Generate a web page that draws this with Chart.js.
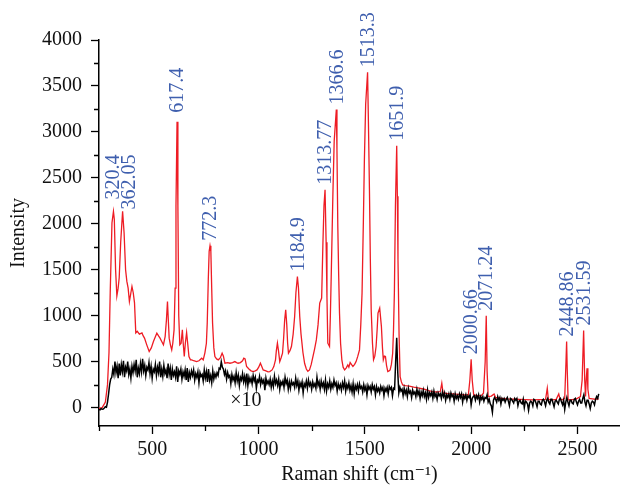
<!DOCTYPE html>
<html lang="en">
<head>
<meta charset="UTF-8">
<title>Raman spectrum</title>
<script src="https://cdn.jsdelivr.net/npm/chart.js"></script>
<style>
  html, body { margin: 0; padding: 0; background: #fff; }
  #wrap { width: 620px; height: 489px; }
</style>
</head>
<body>
<div id="wrap"><canvas id="raman"></canvas></div>
<script>
// red trace (sample)
const redShift = [
  250, 265, 280, 290, 297, 303, 311, 318, 322, 328, 334, 340, 345, 352, 361, 368, 375, 381, 387, 393,
  400, 405, 411, 417, 423, 430, 440, 452, 458, 464, 475, 486, 496, 506, 515, 522, 530, 537, 545, 553,
  561, 567, 572, 576, 580, 586, 592, 597, 603, 608, 612, 617, 621, 625, 630, 636, 642, 646, 651, 656,
  662, 667, 673, 680, 686, 695, 709, 720, 733, 740, 748, 755, 759, 764, 768, 772, 776, 780, 784, 790,
  795, 803, 811, 820, 829, 835, 842, 855, 866, 878, 889, 897, 904, 915, 925, 931, 937, 944, 955, 965,
  975, 985, 993, 1001, 1009, 1015, 1022, 1035, 1045, 1053, 1064, 1072, 1080, 1084, 1089, 1094, 1100, 1106, 1113, 1118,
  1123, 1128, 1133, 1137, 1141, 1148, 1155, 1163, 1170, 1176, 1183, 1188, 1194, 1200, 1209, 1217, 1225, 1232, 1240, 1248,
  1256, 1264, 1272, 1280, 1288, 1297, 1303, 1308, 1313, 1318, 1322, 1326, 1334, 1338, 1342, 1350, 1356, 1366, 1369, 1373,
  1377, 1381, 1386, 1392, 1398, 1405, 1412, 1420, 1425, 1431, 1437, 1444, 1452, 1459, 1467, 1475, 1481, 1487, 1493, 1498,
  1504, 1513, 1517, 1522, 1526, 1530, 1536, 1541, 1547, 1553, 1558, 1562, 1570, 1578, 1583, 1587, 1592, 1597, 1602, 1608,
  1614, 1619, 1625, 1631, 1635, 1639, 1644, 1650, 1653, 1656, 1661, 1666, 1672, 1678, 1690, 1709, 1730, 1756, 1780, 1800,
  1819, 1840, 1855, 1862, 1868, 1890, 1912, 1940, 1960, 1987, 1994, 2000, 2005, 2012, 2030, 2046, 2058, 2066, 2071, 2075,
  2080, 2095, 2108, 2115, 2131, 2170, 2209, 2250, 2287, 2320, 2350, 2358, 2363, 2381, 2400, 2412, 2418, 2428, 2440, 2446,
  2449, 2452, 2456, 2475, 2491, 2514, 2522, 2529, 2534, 2538, 2541, 2545, 2549, 2555, 2570, 2584, 2600
];
const redIntensity = [
  -10, 0, 60, 250, 600, 1280, 2010, 2135, 2050, 1500, 1216, 1300, 1413, 1800, 2135, 1900, 1500, 1373, 1300, 1155,
  1250, 1318, 1250, 1140, 813, 830, 800, 813, 780, 756, 680, 610, 650, 719, 770, 810, 780, 756, 720, 683,
  773, 950, 1155, 950, 756, 680, 628, 700, 846, 1300, 2200, 3110, 2200, 1000, 683, 700, 846, 700, 556, 700,
  817, 700, 556, 520, 520, 510, 501, 510, 538, 520, 596, 700, 922, 1400, 1700, 1760, 1700, 1300, 922, 650,
  556, 530, 520, 540, 592, 560, 483, 490, 483, 490, 501, 490, 483, 490, 510, 538, 530, 447, 420, 400,
  392, 400, 410, 440, 483, 450, 410, 400, 390, 392, 410, 447, 520, 620, 701, 620, 501, 540, 592, 750,
  950, 1065, 900, 700, 592, 620, 665, 800, 991, 1250, 1427, 1300, 991, 800, 600, 480, 420, 395, 410, 470,
  556, 640, 737, 900, 1137, 1192, 1791, 2200, 2371, 1800, 1200, 701, 665, 1000, 1427, 2335, 2900, 3243, 2800, 1972,
  1450, 1028, 700, 520, 440, 410, 430, 465, 440, 490, 470, 447, 470, 501, 560, 628, 900, 1246, 2000, 2698,
  3300, 3650, 3100, 2335, 1600, 1064, 700, 520, 560, 665, 850, 1028, 1083, 882, 650, 520, 560, 556, 460, 392,
  400, 410, 470, 592, 850, 1246, 2200, 2850, 2300, 1609, 800, 338, 280, 247, 240, 235, 222, 211, 200, 185,
  175, 170, 175, 265, 160, 152, 149, 145, 140, 138, 300, 527, 300, 138, 130, 127, 156, 500, 999, 400,
  120, 125, 149, 110, 102, 95, 91, 88, 84, 88, 90, 211, 90, 84, 90, 149, 90, 84, 100, 500,
  719, 400, 84, 88, 91, 120, 300, 839, 300, 120, 300, 429, 200, 100, 95, 91, 95
];

// black trace (x10)
const blackShift = [
  250, 255, 260, 265, 270, 275, 280, 285, 290, 295, 300, 305, 310, 315, 320, 325, 330, 335, 340, 345,
  350, 355, 360, 365, 370, 375, 380, 385, 390, 395, 400, 405, 410, 415, 420, 425, 430, 435, 440, 445,
  450, 455, 460, 465, 470, 475, 480, 485, 490, 495, 500, 505, 510, 515, 520, 525, 530, 535, 540, 545,
  550, 555, 560, 565, 570, 575, 580, 585, 590, 595, 600, 605, 610, 615, 620, 625, 630, 635, 640, 645,
  650, 655, 660, 665, 670, 675, 680, 685, 690, 695, 700, 705, 710, 715, 720, 725, 730, 735, 740, 745,
  750, 755, 760, 765, 770, 775, 780, 785, 790, 795, 800, 805, 810, 815, 820, 825, 830, 835, 840, 845,
  850, 855, 860, 865, 870, 875, 880, 885, 890, 895, 900, 905, 910, 915, 920, 925, 930, 935, 940, 945,
  950, 955, 960, 965, 970, 975, 980, 985, 990, 995, 1000, 1005, 1010, 1015, 1020, 1025, 1030, 1035, 1040, 1045,
  1050, 1055, 1060, 1065, 1070, 1075, 1080, 1085, 1090, 1095, 1100, 1105, 1110, 1115, 1120, 1125, 1130, 1135, 1140, 1145,
  1150, 1155, 1160, 1165, 1170, 1175, 1180, 1185, 1190, 1195, 1200, 1205, 1210, 1215, 1220, 1225, 1230, 1235, 1240, 1245,
  1250, 1255, 1260, 1265, 1270, 1275, 1280, 1285, 1290, 1295, 1300, 1305, 1310, 1315, 1320, 1325, 1330, 1335, 1340, 1345,
  1350, 1355, 1360, 1365, 1370, 1375, 1380, 1385, 1390, 1395, 1400, 1405, 1410, 1415, 1420, 1425, 1430, 1435, 1440, 1445,
  1450, 1455, 1460, 1465, 1470, 1475, 1480, 1485, 1490, 1495, 1500, 1505, 1510, 1515, 1520, 1525, 1530, 1535, 1540, 1545,
  1550, 1555, 1560, 1565, 1570, 1575, 1580, 1585, 1590, 1595, 1600, 1605, 1610, 1615, 1620, 1625, 1630, 1635, 1640, 1645,
  1650, 1655, 1660, 1665, 1670, 1675, 1680, 1685, 1690, 1695, 1700, 1705, 1710, 1715, 1720, 1725, 1730, 1735, 1740, 1745,
  1750, 1755, 1760, 1765, 1770, 1775, 1780, 1785, 1790, 1795, 1800, 1805, 1810, 1815, 1820, 1825, 1830, 1835, 1840, 1845,
  1850, 1855, 1860, 1865, 1870, 1875, 1880, 1885, 1890, 1895, 1900, 1905, 1910, 1915, 1920, 1925, 1930, 1935, 1940, 1945,
  1950, 1955, 1960, 1965, 1970, 1975, 1980, 1985, 1990, 1995, 2000, 2005, 2010, 2015, 2020, 2025, 2030, 2035, 2040, 2045,
  2050, 2055, 2060, 2065, 2070, 2075, 2080, 2085, 2090, 2095, 2100, 2105, 2110, 2115, 2120, 2125, 2130, 2135, 2140, 2145,
  2150, 2155, 2160, 2165, 2170, 2175, 2180, 2185, 2190, 2195, 2200, 2205, 2210, 2215, 2220, 2225, 2230, 2235, 2240, 2245,
  2250, 2255, 2260, 2265, 2270, 2275, 2280, 2285, 2290, 2295, 2300, 2305, 2310, 2315, 2320, 2325, 2330, 2335, 2340, 2345,
  2350, 2355, 2360, 2365, 2370, 2375, 2380, 2385, 2390, 2395, 2400, 2405, 2410, 2415, 2420, 2425, 2430, 2435, 2440, 2445,
  2450, 2455, 2460, 2465, 2470, 2475, 2480, 2485, 2490, 2495, 2500, 2505, 2510, 2515, 2520, 2525, 2530, 2535, 2540, 2545,
  2550, 2555, 2560, 2565, 2570, 2575, 2580, 2585, 2590, 2595, 2600
];
const blackIntensity = [
  -20, -25, -10, -18, -15, -5, 10, 5, 60, 150, 250, 310, 330, 420, 360, 500, 380, 450, 320, 480,
  350, 470, 390, 510, 330, 440, 400, 500, 360, 420, 320, 450, 380, 470, 400, 520, 330, 430, 370, 480,
  390, 530, 400, 460, 350, 440, 410, 490, 370, 450, 320, 420, 390, 470, 350, 440, 380, 500, 330, 420,
  340, 460, 370, 410, 320, 480, 360, 430, 300, 420, 350, 390, 330, 450, 280, 400, 360, 420, 310, 390,
  340, 410, 300, 430, 280, 380, 330, 400, 350, 410, 300, 370, 330, 390, 270, 380, 340, 360, 290, 410,
  320, 390, 280, 420, 300, 350, 270, 400, 310, 370, 330, 380, 350, 430, 420, 500, 440, 420, 360, 400,
  310, 380, 330, 350, 260, 360, 300, 340, 270, 380, 290, 350, 240, 330, 300, 370, 280, 340, 260, 370,
  240, 330, 280, 320, 260, 350, 290, 330, 210, 300, 280, 340, 250, 310, 270, 300, 190, 320, 260, 290,
  250, 310, 220, 290, 230, 340, 260, 300, 240, 310, 200, 280, 250, 290, 220, 330, 260, 300, 200, 280,
  210, 290, 250, 270, 220, 320, 240, 290, 190, 270, 230, 280, 160, 260, 230, 290, 210, 300, 240, 270,
  200, 280, 230, 260, 210, 330, 240, 280, 200, 290, 230, 270, 200, 300, 180, 260, 220, 290, 200, 260,
  220, 300, 240, 270, 180, 260, 210, 250, 190, 270, 220, 290, 180, 250, 210, 270, 190, 240, 170, 260,
  150, 240, 200, 250, 180, 260, 210, 230, 170, 250, 190, 230, 140, 240, 200, 230, 170, 250, 200, 230,
  140, 230, 180, 210, 160, 230, 190, 220, 130, 210, 180, 220, 150, 230, 200, 220, 130, 210, 200, 500,
  760, 380, 160, 220, 180, 200, 130, 210, 150, 190, 120, 210, 160, 180, 110, 190, 150, 170, 120, 200,
  140, 180, 100, 170, 130, 190, 120, 160, 90, 190, 110, 160, 130, 170, 100, 180, 120, 150, 90, 160,
  130, 150, 100, 170, 120, 160, 80, 140, 110, 150, 90, 160, 120, 140, 70, 150, 100, 130, 90, 150,
  110, 150, 60, 130, 100, 140, 80, 130, 110, 140, 30, 100, 120, 130, 80, 130, 100, 140, 60, 120,
  90, 120, 70, 110, 100, 140, 60, 90, 40, 20, -50, 80, 110, 90, 60, 120, 80, 110, 40, 100,
  80, 100, 60, 90, 110, 70, 20, 100, 90, 70, 50, 100, 80, 100, 20, 70, 80, 50, 40, 90,
  0, 70, 60, 40, -30, 50, 70, 60, 20, 90, 80, 50, 10, 70, 70, 40, 30, 80, 90, 60,
  20, 80, 100, 60, 40, 90, 90, 50, 10, 70, 80, 60, 40, 90, 100, 60, 30, 80, -20, 60,
  110, 60, 20, 80, 80, 50, 40, 90, 100, 60, 30, 70, 90, 50, 50, 100, 140, 60, 20, 80,
  80, 40, -10, 50, 70, 60, 30, 90, 120, 100, 150
];

// peak annotations
const peakLabels = ['320.4', '362.05', '617.4', '772.3', '1184.9', '1313.77', '1366.6', '1513.3', '1651.9', '2000.66', '2071.24', '2448.86', '2531.59'];
const peakShift = [318, 361, 617, 772, 1183, 1313, 1366, 1513, 1650, 2000, 2071, 2449, 2529];
const peakHeight = [2135, 2135, 3110, 1760, 1427, 2371, 3243, 3650, 2850, 527, 999, 719, 839];

// "x10" note and axis ticks
const scaleNote = '×10';
const scaleNoteAt = [941, 73];
const xTicks = [500, 1000, 1500, 2000, 2500];
const xMinorTicks = [250, 750, 1250, 1750, 2250];
const yTicks = [0, 500, 1000, 1500, 2000, 2500, 3000, 3500, 4000];
const yMinorTicks = [250, 750, 1250, 1750, 2250, 2750, 3250, 3750];

const serif = "'Liberation Serif', 'DejaVu Serif', serif";
const pts = (xs, ys) => xs.map((x, i) => ({ x: x, y: ys[i] }));

// small pixel nudges so crowded labels don't collide
const labelNudge = { '320.4': [-1, 7], '362.05': [6, -3], '617.4': [0, 4] };

const minorTicks = {
  id: 'minorTicks',
  afterDraw(chart) {
    const { ctx, chartArea, scales } = chart;
    ctx.save();
    ctx.strokeStyle = '#000';
    ctx.lineWidth = 1.3;
    ctx.beginPath();
    yMinorTicks.forEach(v => {
      const y = Math.round(scales.y.getPixelForValue(v)) + 0.5;
      ctx.moveTo(chartArea.left - 5, y);
      ctx.lineTo(chartArea.left, y);
    });
    xMinorTicks.forEach(v => {
      const x = Math.round(scales.x.getPixelForValue(v)) + 0.5;
      ctx.moveTo(x, chartArea.bottom);
      ctx.lineTo(x, chartArea.bottom + 5);
    });
    ctx.stroke();
    ctx.restore();
  }
};

const peakText = {
  id: 'peakText',
  afterDatasetsDraw(chart) {
    const { ctx, scales } = chart;
    ctx.save();
    ctx.font = '20px ' + serif;
    ctx.fillStyle = '#3f5fae';
    ctx.textAlign = 'left';
    ctx.textBaseline = 'middle';
    peakLabels.forEach((t, i) => {
      const n = labelNudge[t] || [0, 0];
      const x = scales.x.getPixelForValue(peakShift[i]) + n[0];
      const y = scales.y.getPixelForValue(peakHeight[i]) - 5 - n[1];
      ctx.save();
      ctx.translate(x, y);
      ctx.rotate(-Math.PI / 2);
      ctx.fillText(t, 0, 1);
      ctx.restore();
    });
    ctx.fillStyle = '#111';
    ctx.textAlign = 'center';
    ctx.fillText(scaleNote, scales.x.getPixelForValue(scaleNoteAt[0]), scales.y.getPixelForValue(scaleNoteAt[1]));
    ctx.restore();
  }
};

new Chart(document.getElementById('raman'), {
  type: 'scatter',
  data: {
    datasets: [
      {
        label: '×10',
        data: pts(blackShift, blackIntensity),
        showLine: true,
        borderColor: '#000',
        borderWidth: 1.5,
        pointRadius: 0,
        tension: 0
      },
      {
        label: 'Spectrum',
        data: pts(redShift, redIntensity),
        showLine: true,
        borderColor: '#ee1c24',
        borderWidth: 1.3,
        pointRadius: 0,
        tension: 0
      }
    ]
  },
  options: {
    responsive: true,
    maintainAspectRatio: false,
    animation: false,
    layout: { padding: { top: 40, right: 0, left: 0, bottom: 0 } },
    plugins: {
      legend: { display: false },
      tooltip: { enabled: false }
    },
    scales: {
      x: {
        type: 'linear',
        min: 250,
        max: 2700,
        afterBuildTicks: s => { s.ticks = xTicks.map(v => ({ value: v })); },
        afterFit: s => { s.height = 63; },
        border: { color: '#000', width: 1.5 },
        grid: { drawOnChartArea: false, tickLength: 8, tickColor: '#000', tickWidth: 1.3 },
        ticks: { color: '#111', font: { family: serif, size: 20 }, padding: 4, maxRotation: 0, callback: v => String(v) },
        title: {
          display: true,
          text: 'Raman shift (cm⁻¹)',
          color: '#111',
          font: { family: serif, size: 20 },
          padding: { top: 0, bottom: 2 }
        }
      },
      y: {
        min: -200,
        max: 4000,
        afterBuildTicks: s => { s.ticks = yTicks.map(v => ({ value: v })); },
        afterFit: s => { s.width = 99; },
        border: { color: '#000', width: 1.5 },
        grid: { drawOnChartArea: false, tickLength: 8, tickColor: '#000', tickWidth: 1.3 },
        ticks: { color: '#111', font: { family: serif, size: 20 }, padding: 9, callback: v => String(v) },
        title: {
          display: true,
          text: 'Intensity',
          color: '#111',
          font: { family: serif, size: 20 },
          padding: { top: 7, bottom: 0 }
        }
      }
    }
  },
  plugins: [minorTicks, peakText]
});
</script>
</body>
</html>
